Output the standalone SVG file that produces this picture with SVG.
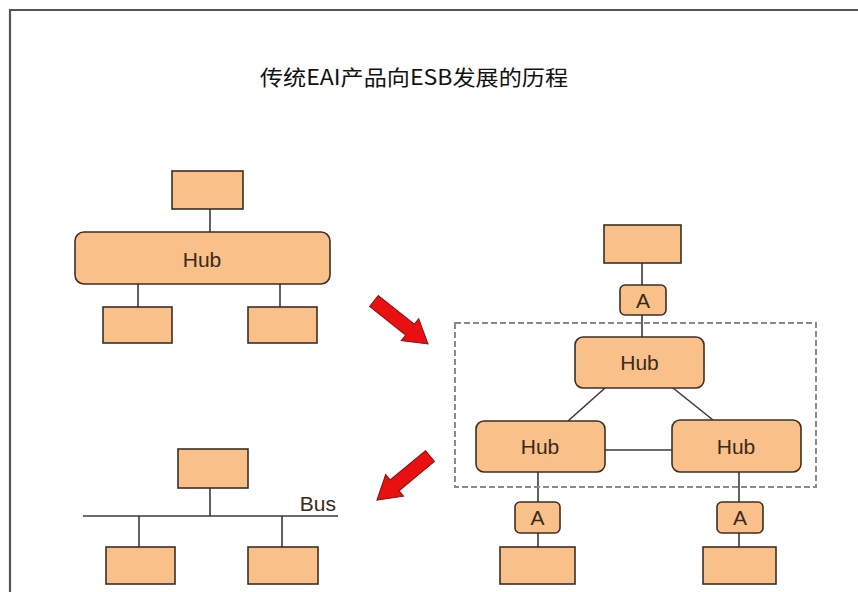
<svg xmlns="http://www.w3.org/2000/svg" width="858" height="592" viewBox="0 0 858 592">
<style>
.box{fill:#F9C08A;stroke:#3d2f24;stroke-width:1.6}
.ln{stroke:#3a3a3a;stroke-width:1.6;fill:none}
.lbl{font-family:"Liberation Sans",Arial,sans-serif;font-size:21px;fill:#3a2a1a;text-anchor:middle}
.arrow{fill:#E81010;stroke:#8a1010;stroke-width:1}
</style>
<rect x="0" y="0" width="858" height="592" fill="#ffffff"/>
<path d="M10,592 V10 H858" fill="none" stroke="#555" stroke-width="2.2"/>
<text x="260" y="85" font-family="'Noto Sans CJK SC',sans-serif" font-size="21" fill="#111" textLength="308" lengthAdjust="spacingAndGlyphs">传统EAI产品向ESB发展的历程</text>

<g id="connectors">
  <line class="ln" x1="210" y1="209" x2="210" y2="232"/>
  <line class="ln" x1="138" y1="284" x2="138" y2="307"/>
  <line class="ln" x1="280" y1="284" x2="280" y2="307"/>
  <line class="ln" x1="210" y1="488" x2="210" y2="516"/>
  <line class="ln" x1="83" y1="516" x2="338" y2="516"/>
  <line class="ln" x1="139" y1="516" x2="139" y2="547"/>
  <line class="ln" x1="282" y1="516" x2="282" y2="547"/>
  <line class="ln" x1="642" y1="263" x2="642" y2="285"/>
  <line class="ln" x1="642" y1="315" x2="642" y2="337"/>
  <line class="ln" x1="605" y1="388" x2="568" y2="421"/>
  <line class="ln" x1="673" y1="388" x2="713" y2="420"/>
  <line class="ln" x1="605" y1="450" x2="672" y2="450"/>
  <line class="ln" x1="538" y1="472" x2="538" y2="502"/>
  <line class="ln" x1="538" y1="533" x2="538" y2="547"/>
  <line class="ln" x1="739" y1="472" x2="739" y2="502"/>
  <line class="ln" x1="739" y1="533" x2="739" y2="547"/>
</g>

<rect x="455" y="323" width="361" height="164" fill="none" stroke="#8a8a8a" stroke-width="2" stroke-dasharray="6,3"/>

<g id="arrow1"><polygon class="arrow" transform="translate(374,301) rotate(38.5)" points="0,-7 46,-7 46,-14 69,0 46,14 46,7 0,7"/></g>
<g id="arrow2"><polygon class="arrow" transform="translate(430,456) rotate(140.3)" points="0,-7 46,-7 46,-14 69,0 46,14 46,7 0,7"/></g>

<g id="l-top"><rect class="box" x="172" y="171" width="71" height="38"/></g>
<g id="l-hub"><rect class="box" x="75" y="232" width="255" height="52" rx="9"/><text class="lbl" x="202" y="267">Hub</text></g>
<g id="l-b1"><rect class="box" x="103" y="307" width="69" height="36"/></g>
<g id="l-b2"><rect class="box" x="248" y="307" width="69" height="36"/></g>

<g id="b-top"><rect class="box" x="178" y="449" width="70" height="39"/></g>
<g id="b-label"><text class="lbl" x="336" y="511" style="text-anchor:end">Bus</text></g>
<g id="b-b1"><rect class="box" x="106" y="547" width="69" height="37"/></g>
<g id="b-b2"><rect class="box" x="248" y="547" width="70" height="37"/></g>

<g id="r-top"><rect class="box" x="604" y="225" width="77" height="38"/></g>
<g id="r-a-top"><rect class="box" x="620" y="285" width="46" height="30" rx="5"/><text class="lbl" x="643" y="308">A</text></g>
<g id="r-hub-top"><rect class="box" x="575" y="337" width="129" height="51" rx="8"/><text class="lbl" x="639.5" y="370">Hub</text></g>
<g id="r-hub-left"><rect class="box" x="476" y="421" width="129" height="51" rx="8"/><text class="lbl" x="540" y="454">Hub</text></g>
<g id="r-hub-right"><rect class="box" x="672" y="420" width="129" height="52" rx="8"/><text class="lbl" x="736" y="454">Hub</text></g>
<g id="r-a-left"><rect class="box" x="515" y="502" width="45" height="31" rx="5"/><text class="lbl" x="537.5" y="525">A</text></g>
<g id="r-a-right"><rect class="box" x="717" y="502" width="46" height="31" rx="5"/><text class="lbl" x="740" y="525">A</text></g>
<g id="r-b1"><rect class="box" x="500" y="547" width="75" height="37"/></g>
<g id="r-b2"><rect class="box" x="703" y="547" width="73" height="37"/></g>
</svg>
